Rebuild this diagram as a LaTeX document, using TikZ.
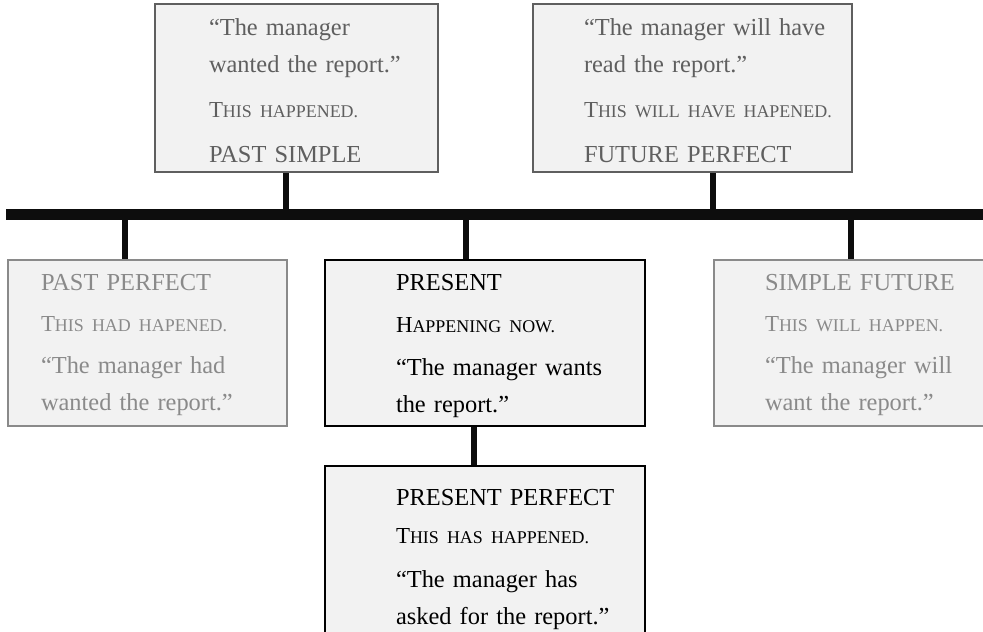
\documentclass[tikz,border=0pt]{standalone}
\usepackage{fontspec}
\setmainfont{Liberation Serif}
\usepackage{xcolor}
\usetikzlibrary{positioning}
\definecolor{Ink}{RGB}{13,13,13}
\definecolor{Muted}{RGB}{95,95,95}
\definecolor{Faint}{RGB}{138,138,138}
\definecolor{Panel}{RGB}{242,242,242}
\newcommand{\fakesc}[2]{{\fontsize{23}{37}\selectfont #1}{\fontsize{18}{37}\selectfont #2}}
\tikzset{
  tensebox/.style={draw,fill=Panel,line width=2bp,inner sep=0pt,anchor=north west,align=left,font={\fontsize{24.5}{37}\selectfont}},
  leadin/.style={execute at begin node={\leftskip=#1\rightskip=-80bp plus 1fil\relax}},
  nearbox/.style={tensebox,draw=Muted,text=Muted},
  farbox/.style={tensebox,draw=Faint,text=Faint},
  nowbox/.style={tensebox,draw=black,text=black},
  stem/.style={line width=6bp,draw=Ink},
  timeline/.style={line width=11.5bp,draw=Ink}
}
\begin{document}
\begin{tikzpicture}[x=1bp,y=-1bp]
\useasboundingbox (0,0) rectangle (983,632);
% upper row
\node[nearbox,leadin=54bp,text width=283bp,text height=32bp,text depth=136bp] (simple) at (154,3)
  {“The manager\\ wanted the report.”\\[8bp] \fakesc{T}{HIS HAPPENED.}\\[8bp] PAST SIMPLE};
\node[nearbox,leadin=51bp,text width=319bp,text height=32bp,text depth=136bp] (futperf) at (532,3)
  {“The manager will have\\ read the report.”\\[8bp] \fakesc{T}{HIS WILL HAVE HAPENED.}\\[8bp] FUTURE PERFECT};
% lower row
\node[farbox,leadin=33bp,text width=279bp,text height=30bp,text depth=136bp] (pastperf) at (7,259)
  {PAST PERFECT\\[5bp] \fakesc{T}{HIS HAD HAPENED.}\\[5bp] “The manager had\\ wanted the report.”};
\node[nowbox,leadin=71bp,text width=320bp,text height=30bp,text depth=136bp] (present) at (324,259)
  {PRESENT\\[6bp] \fakesc{H}{APPENING NOW.}\\[6bp] “The manager wants\\ the report.”};
\node[farbox,leadin=51bp,text width=290bp,text height=30bp,text depth=136bp] (future) at (713,259)
  {SIMPLE FUTURE\\[5bp] \fakesc{T}{HIS WILL HAPPEN.}\\[5bp] “The manager will\\ want the report.”};
\node[nowbox,leadin=71bp,text width=320bp,text height=39bp,text depth=129bp,anchor=north,below=38bp of present] (presperf)
  {PRESENT PERFECT\\[2bp] \fakesc{T}{HIS HAS HAPPENED.}\\[7bp] “The manager has\\ asked for the report.”};
% timeline and stems
\coordinate (bar-l) at (6,214.5);
\coordinate (bar-r) at (990,214.5);
\coordinate (t1) at (286,214.5);
\coordinate (t2) at (713,214.5);
\coordinate (t3) at (125,214.5);
\coordinate (t4) at (466,214.5);
\coordinate (t5) at (851,214.5);
\coordinate (drop) at (474,444);
\draw[stem] (simple.south -| t1)--(t1); \draw[stem] (futperf.south -| t2)--(t2);
\draw[stem] (pastperf.north -| t3)--(t3); \draw[stem] (present.north -| t4)--(t4); \draw[stem] (future.north -| t5)--(t5);
\draw[stem] (present.south -| drop)--(presperf.north -| drop);
\draw[timeline] (bar-l)--(bar-r);
\end{tikzpicture}
\end{document}
